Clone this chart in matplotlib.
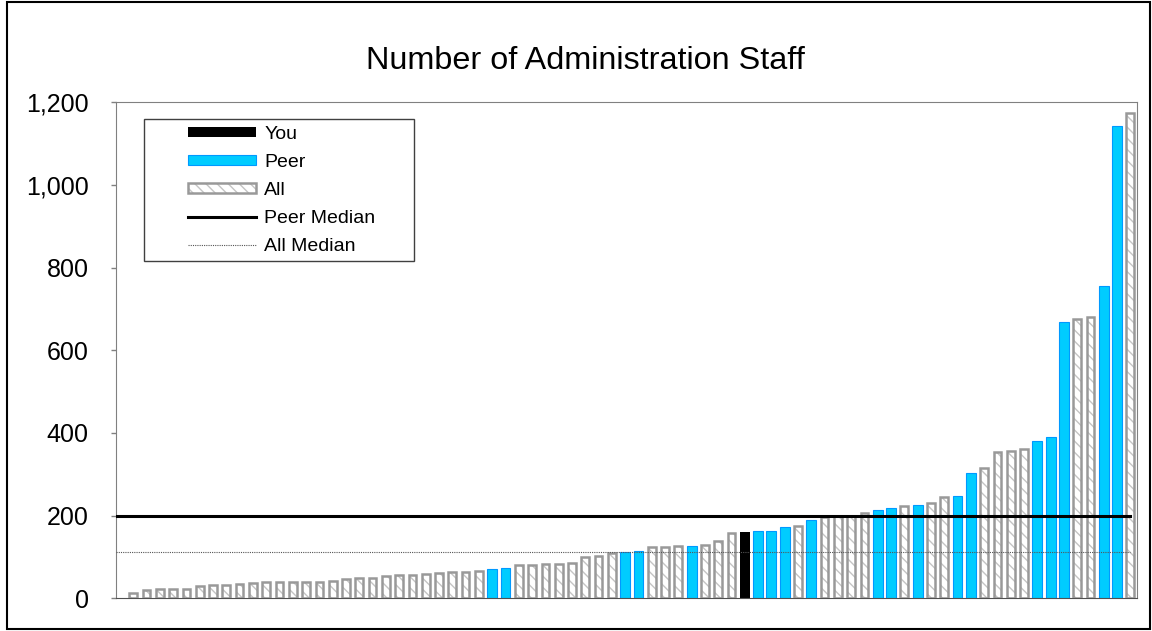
import matplotlib.pyplot as plt
from matplotlib.patches import Patch, Rectangle
from matplotlib.lines import Line2D
from matplotlib.ticker import FuncFormatter

plt.rcParams['font.family'] = ['Liberation Sans', 'DejaVu Sans']
plt.rcParams['hatch.linewidth'] = 1.0

# staff counts, sorted ascending, and which group each organisation belongs to
staff = [
    14, 21, 23, 23, 23, 29, 31, 32, 35, 38,
    40, 40, 40, 40, 40, 42, 46, 49, 50, 55,
    56, 56, 58, 61, 64, 64, 66, 72, 74, 81,
    81, 84, 84, 85, 100, 103, 110, 113, 114, 124,
    125, 126, 126, 128, 138, 157, 160, 162, 162, 172,
    175, 190, 197, 198, 198, 206, 213, 218, 223, 225,
    231, 244, 248, 303, 316, 354, 357, 361, 381, 390,
    668, 675, 680, 756, 1142, 1173,
]
group = [
    "All", "All", "All", "All", "All", "All", "All", "All", "All", "All",
    "All", "All", "All", "All", "All", "All", "All", "All", "All", "All",
    "All", "All", "All", "All", "All", "All", "All", "Peer", "Peer", "All",
    "All", "All", "All", "All", "All", "All", "All", "Peer", "Peer", "All",
    "All", "All", "Peer", "All", "All", "All", "You", "Peer", "Peer", "Peer",
    "All", "Peer", "All", "All", "All", "All", "Peer", "Peer", "All", "Peer",
    "All", "All", "Peer", "Peer", "All", "All", "All", "All", "Peer", "Peer",
    "Peer", "All", "All", "Peer", "Peer", "All",
]
peer_median = 200
all_median = 112
yticks = [0, 200, 400, 600, 800, 1000, 1200]

W, H = 1152, 631
fig = plt.figure(figsize=(W / 100, H / 100), dpi=100)
ax = fig.add_axes([116 / W, 1 - 598.3 / H, (1137 - 116) / W, (598.3 - 102.3) / H])

blue, blue_edge = "#00CCFF", "#0099FF"
grey_edge, hatch_grey = "#999999", "#C4C4C4"

x = list(range(len(staff)))
for g in ["All", "Peer", "You"]:
    xs = [i for i in x if group[i] == g]
    ys = [staff[i] for i in x if group[i] == g]
    if g == "All":
        ax.bar(xs, ys, width=0.58, color="white", edgecolor=hatch_grey,
               hatch="\\\\\\", linewidth=0, zorder=2)
        ax.bar(xs, ys, width=0.58, fill=False, edgecolor=grey_edge,
               linewidth=1.8, zorder=3)
    elif g == "Peer":
        ax.bar(xs, ys, width=0.74, color=blue, edgecolor=blue_edge,
               linewidth=0.8, zorder=2)
    else:
        ax.bar(xs, ys, width=0.74, color="black", linewidth=0, zorder=2)

x_end = len(staff) - 1
ax.plot([-1.3, x_end], [peer_median, peer_median], color="black", lw=2.2, zorder=4)
ax.plot([-1.3, x_end], [all_median, all_median], color="#555555", lw=0.8,
        linestyle=(0, (1, 1)), zorder=4)

ax.set_xlim(-1.3, len(staff) - 0.5)
ax.set_ylim(0, 1200)
ax.set_yticks(yticks)
ax.yaxis.set_major_formatter(FuncFormatter(lambda v, p: f"{int(v):,}"))
ax.set_xticks([])
ax.tick_params(axis="y", direction="out", length=3.6, width=1, color="#808080",
               labelsize=18, pad=16)
for s in ["left", "top", "right"]:
    ax.spines[s].set_color("#808080")
ax.spines["bottom"].set_color("#505050")

fig.text(585 / W, 1 - 61 / H, "Number of Administration Staff",
         fontsize=23.3, ha="center", va="center")

# legend: frameless entries inside a drawn box
all_handle = (Patch(facecolor="white", edgecolor=hatch_grey, hatch="\\\\\\", linewidth=0),
              Patch(fill=False, edgecolor=grey_edge, linewidth=1.8))
handles = [
    Patch(facecolor="black"),
    Patch(facecolor=blue, edgecolor=blue_edge, linewidth=0.8),
    all_handle,
    Line2D([], [], color="black", lw=2.2),
    Line2D([], [], color="#555555", lw=0.8, linestyle=(0, (1, 1))),
]
labels = ["You", "Peer", "All", "Peer Median", "All Median"]
fig.legend(handles, labels, loc="upper left", bbox_to_anchor=(188 / W, 1 - 126 / H),
           frameon=False, fontsize=14, borderpad=0, borderaxespad=0,
           handlelength=3.5, handleheight=0.42, handletextpad=0.42,
           labelspacing=0.56)
fig.add_artist(Rectangle((144 / W, 1 - 261 / H), (414 - 144) / W, (261 - 119) / H,
                         transform=fig.transFigure, fill=False,
                         edgecolor="#404040", lw=1))

# outer chart border
fig.add_artist(Rectangle((7 / W, 1 - 629 / H), 1143 / W, 627 / H,
                         transform=fig.transFigure, fill=False,
                         edgecolor="black", lw=1.5))

fig.savefig("out.png", dpi=100)
